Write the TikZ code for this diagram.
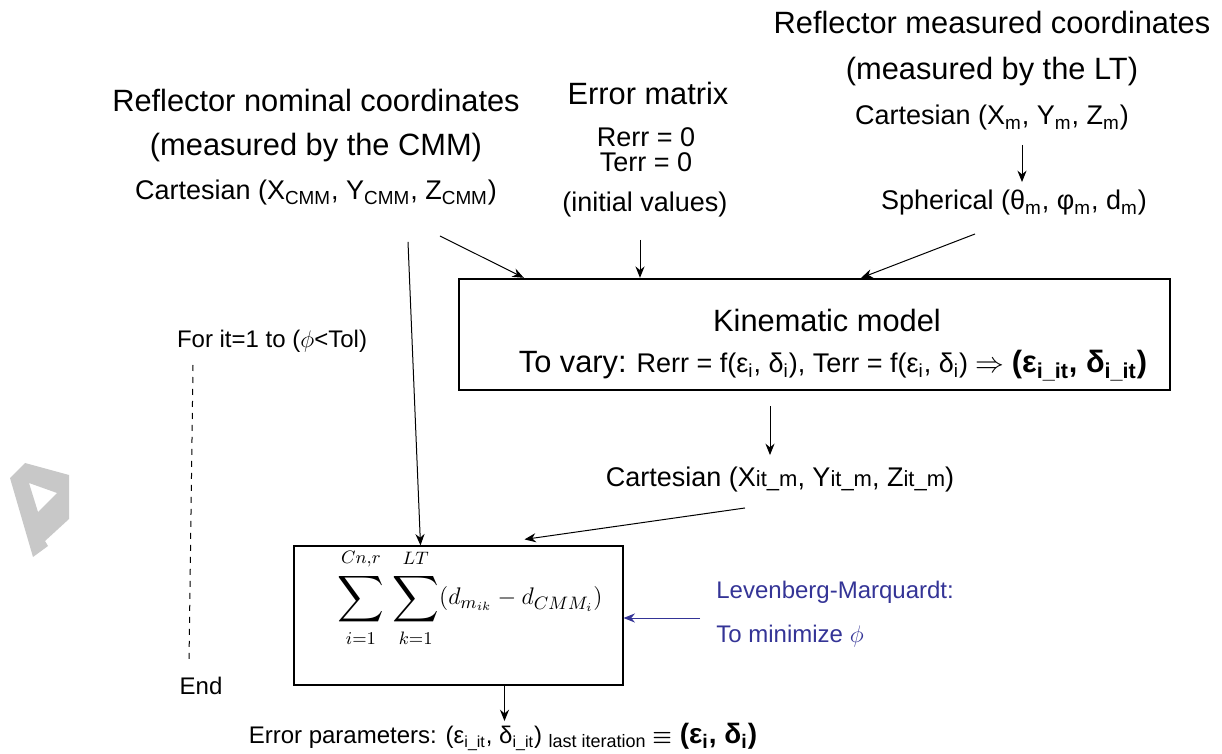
\documentclass[tikz,border=0pt]{standalone}
\usepackage{amsmath}
\usepackage{graphicx}
\usepackage{fontspec}
\setmainfont{Liberation Sans}
\usetikzlibrary{arrows.meta,positioning}
\newcommand{\lsub}[1]{\textsubscript{#1}}
\newcommand{\lgsum}{\mathop{\vcenter{\hbox{\raisebox{0pt}[\dimexpr\height+2pt\relax][\dimexpr\depth+1.5pt\relax]{\scalebox{1.35}{$\displaystyle\sum$}}}}}\limits}
\definecolor{lmblue}{RGB}{52,52,150}
\definecolor{wmgray}{RGB}{200,200,200}
\tikzset{
  >={Stealth[length=2mm,width=1.6mm]},
  bigtxt/.style={font=\fontsize{15.4}{18}\selectfont,inner sep=1pt},
  midtxt/.style={font=\fontsize{13.5}{16}\selectfont,inner sep=1pt},
  smltxt/.style={font=\fontsize{12}{14}\selectfont,inner sep=1pt},
  flow/.style={->,line width=0.5pt},
  kinbox/.style={draw,line width=1.2pt,minimum width=355.5pt,minimum height=55.5pt},
  sumbox/.style={draw,line width=0.6pt,minimum width=164.5pt,minimum height=69.5pt},
  lmtxt/.style={smltxt,text=lmblue,anchor=west},
}

\begin{document}
\begin{tikzpicture}[x=0.5pt,y=-0.5pt]
  \useasboundingbox (0,0) rectangle (1222,754);
  % watermark fragment
  \fill[wmgray,even odd rule] (10,478) -- (25,463) -- (69,475) -- (69,519) -- (45,541)
    -- (48,546) -- (33,557) -- cycle (29,483) -- (57,493) -- (38,512) -- cycle;
  % measured coordinates (LT)
  \node[bigtxt] (rmc1) at (992,22) {Reflector measured coordinates};
  \node[bigtxt] (rmc2) at (992,72) {(measured by the LT)};
  \node[midtxt] (cartm) at (992,118) {Cartesian (X\lsub{m}, Y\lsub{m}, Z\lsub{m})};
  \node[midtxt] (sph) at (1014,203) {Spherical (θ\lsub{m}, φ\lsub{m}, d\lsub{m})};
  % nominal coordinates (CMM)
  \node[bigtxt] (rnc1) at (316,100) {Reflector nominal coordinates};
  \node[bigtxt] (rnc2) at (316,148) {(measured by the CMM)};
  \node[midtxt] (cartc) at (316,193) {Cartesian (X\lsub{CMM}, Y\lsub{CMM}, Z\lsub{CMM})};
  % error matrix
  \node[bigtxt] (emat) at (648,93) {Error matrix};
  \node[midtxt] (rerr) at (646,137) {Rerr = 0};
  \node[midtxt] (terr) at (646,162) {Terr = 0};
  \node[midtxt] (init) at (645,205) {(initial values)};
  % kinematic model
  \node[kinbox] (kin) at (814.5,334.5) {};
  \node[bigtxt] (kmod) at (827,320) {Kinematic model};
  \node[midtxt] (kvary) at (833,366) {{\fontsize{15.4}{18}\selectfont To vary:} Rerr = f(ε\lsub{i}, δ\lsub{i}), Terr = f(ε\lsub{i}, δ\lsub{i}) $\Rightarrow$
    {\fontsize{15.4}{18}\selectfont\bfseries (ε\lsub{i\_it}, δ\lsub{i\_it})}};
  \node[midtxt] (cartit) at (780,480) {Cartesian (X{\fontsize{11}{12}\selectfont it\_m}, Y{\fontsize{11}{12}\selectfont it\_m}, Z{\fontsize{11}{12}\selectfont it\_m})};
  % minimisation
  \node[sumbox] (sbox) at (458.5,615.5) {};
  \node[font=\fontsize{13}{15}\selectfont] (sumf) at (470,598)
    {$\displaystyle\lgsum_{i=1}^{Cn,r}\,\lgsum_{k=1}^{LT}(d_{m_{ik}}-d_{CMM_i})$};
  \node[lmtxt] (lm1) at (714,592) {Levenberg-Marquardt:};
  \node[lmtxt] (lm2) at (714,636) {To minimize $\phi$};
  \coordinate (lmarr) at (700,618);
  \node[smltxt] (errp) at (503,737) {Error parameters: (ε\lsub{i\_it}, δ\lsub{i\_it})
    {\fontsize{9}{10}\selectfont\raisebox{-0.4ex}{last iteration}}
    {\fontsize{14}{16}\selectfont\bfseries {\fontsize{11}{12}\selectfont$\boldsymbol{\equiv}$} (ε\lsub{i}, δ\lsub{i})}};
  % loop
  \node[smltxt] (forit) at (272,341) {For it=1 to ($\phi$<Tol)};
  \node[smltxt] (endn) at (201,686) {End};
  \coordinate (dtop) at (193,365);
  \coordinate (dbot) at (189,662);
  \draw[dashed,line width=0.5pt] (dtop) -- (dbot);
  % connectors
  \draw[flow] ([xshift=15pt]cartm.south) ++(0,12) -- ([xshift=4pt,yshift=3pt]sph.north);
  \draw[flow] ([xshift=62pt,yshift=-14pt]cartc.south) -- ([xshift=33pt]kin.north west);
  \draw[flow] ([xshift=46pt,yshift=-17pt]cartc.south) -- ([xshift=-19pt]sbox.north);
  \draw[flow] ([xshift=-2.5pt,yshift=-10pt]init.south) -- ([xshift=-2.5pt]init.south |- kin.north);
  \draw[flow] ([xshift=-19.5pt,yshift=-8pt]sph.south) -- ([xshift=-155pt]kin.north east);
  \draw[flow] ([xshift=-22.25pt,yshift=-7.5pt]kin.south) -- ([xshift=-22.25pt,yshift=5pt]kin.south |- cartit.north);
  \draw[flow] ([xshift=-17.5pt,yshift=-6.5pt]cartit.south) -- ([xshift=33pt,yshift=3pt]sbox.north);
  \draw[flow,lmblue] (lmarr) -- (sbox.east |- lmarr);
  \draw[flow] ([xshift=23pt]sbox.south) -- ([xshift=23pt]sbox.south |- errp.north);
\end{tikzpicture}
\end{document}
